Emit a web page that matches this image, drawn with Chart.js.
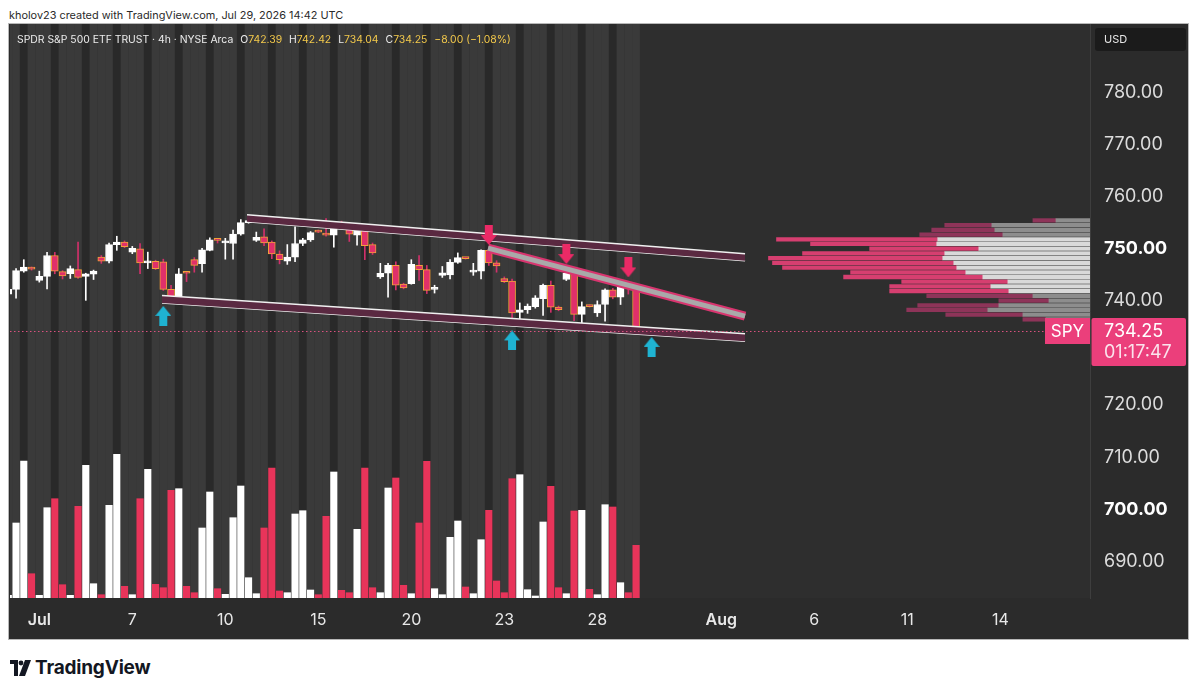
<!DOCTYPE html>
<html><head><meta charset="utf-8">
<script src="https://cdn.jsdelivr.net/npm/chart.js@4.4.1/dist/chart.umd.min.js"></script>
<style>
html,body{margin:0;padding:0;background:#fff;}
body{width:1200px;height:694px;position:relative;overflow:hidden;font-family:Inter,"Liberation Sans",Arial,sans-serif;}
#hdr{position:absolute;left:9px;top:8px;font-size:10.9px;color:#2a2a2a;white-space:nowrap;}
#frame{position:absolute;left:8px;top:23px;width:1179px;height:615px;border:1px solid #b8b8b8;background:#2b2b2b;}
#c{position:absolute;left:0;top:0;}
#legend{position:absolute;left:8px;top:9px;font-size:10.4px;color:#ececec;white-space:nowrap;}
#legend .v{color:#f3c94b;}
#legend b{font-weight:400;margin-left:7px;}
#logo{position:absolute;left:10px;top:656px;display:flex;align-items:center;}
#logo span{font-size:19px;font-weight:700;color:#131722;margin-left:3px;letter-spacing:-0.2px;}
</style></head>
<body>
<div id="hdr">kholov23 created with TradingView.com, Jul 29, 2026 14:42 UTC</div>
<div id="frame">
  <canvas id="c" width="1179" height="615"></canvas>
  <div id="legend">SPDR S&amp;P 500 ETF TRUST · 4h · NYSE Arca<b>O<span class="v">742.39</span></b><b>H<span class="v">742.42</span></b><b>L<span class="v">734.04</span></b><b>C<span class="v">734.25</span></b><b><span class="v">−8.00 (−1.08%)</span></b></div>
</div>
<div id="logo"><svg width="22" height="16" viewBox="0 0 22 16"><path d="M0 0H8V16H4V4H0Z" fill="#131722"/><circle cx="11" cy="3" r="2.4" fill="#131722"/><path d="M15 0H21L15 16H9Z" fill="#131722"/></svg><span>TradingView</span></div>
<script>
// ---------- data (4h bars, Jun 30 04:00 -> Jul 29 08:00) ----------
const open  = [741.3,742.2,745.7,746.2, 743.9,744.7,748.7,745.6, 745.2,746.0,744.7,745.1, 748.4,747.6,750.8,751.3, 749.35,750.0,747.3,747.6, 747.5,742.2,740.85,745.5, 747.9,747.15,749.7,751.7, 751.1,751.0,752.8,755.0, 751.6,752.3,751.3,749.0, 747.6,748.4,751.0,751.7, 753.4,753.0,752.6,754.9, 754.2,752.6,753.7,750.8, 744.6,745.3,746.8,743.2, 743.3,746.8,746.0,742.2, 744.9,745.0,747.4,748.2, 745.5,745.7,749.7,747.3, 744.3,743.8,737.8,738.3, 738.9,740.4,743.0,738.8, 744.1,745.4,737.4,739.0, 737.7,739.3,742.1,740.7, 742.5,742.39];
const high  = [742.3,746.2,747.9,746.5, 745.7,749.3,749.3,745.8, 746.7,751.3,745.3,745.9, 748.7,751.1,752.4,751.5, 750.45,751.0,749.35,747.8, 748.0,743.0,746.2,745.6, 748.3,750.1,752.1,751.9, 752.0,753.6,755.6,755.3, 753.2,753.8,751.5,749.6, 750.8,754.2,752.0,753.3, 753.6,755.8,754.8,755.3, 754.5,754.5,753.9,751.1, 747.2,747.2,747.5,743.4, 747.9,748.7,746.8,743.0, 746.6,747.9,749.2,748.3, 747.2,749.8,749.9,747.7, 744.6,744.2,739.6,739.4, 741.0,743.2,743.8,739.0, 746.5,745.6,739.8,739.2, 740.0,742.3,742.4,743.8, 743.6,742.42];
const low   = [740.6,740.5,745.5,745.9, 743.6,742.3,745.2,744.2, 744.3,744.3,740.1,744.1, 747.2,747.3,749.7,750.2, 749.05,745.2,746.2,746.0, 742.0,739.7,740.7,743.7, 745.5,745.5,749.6,751.1, 748.0,748.0,752.6,754.9, 751.4,750.6,748.1,747.1, 747.0,747.5,750.6,751.4, 753.1,752.4,750.3,754.2, 751.4,750.7,747.9,748.9, 744.3,740.7,742.1,742.3, 743.2,743.9,741.4,741.5, 744.5,744.2,747.2,748.0, 744.9,744.2,746.8,745.5, 743.5,735.6,735.7,737.6, 738.6,737.2,737.8,738.1, 743.9,736.2,735.7,738.8, 737.0,736.1,740.4,739.3, 741.3,734.04];
const close = [742.2,745.8,746.5,746.1, 744.7,748.7,745.7,744.8, 746.2,744.5,745.2,745.7, 747.6,750.8,751.3,750.4, 750.1,747.3,747.6,746.2, 742.2,740.6,745.2,745.3, 746.8,749.8,751.7,751.6, 751.5,752.8,755.0,755.1, 752.2,751.1,749.0,747.9, 748.4,751.0,751.7,753.1, 753.2,752.6,754.7,754.7, 752.8,753.7,750.6,749.2, 745.3,746.8,743.0,742.5, 747.0,746.0,742.0,742.6, 745.4,747.4,748.3,748.1, 745.8,749.7,747.3,746.7, 743.7,737.7,738.3,739.0, 740.6,743.0,738.8,738.3, 745.3,737.4,738.9,738.9, 739.3,742.1,740.7,743.6, 742.39,734.25];
const volume = [0.27,7.5,13.7,2.43, 0.27,9.03,9.93,1.33, 0.27,9.17,13.27,1.43, 0.33,9.27,14.37,1.17, 0.33,9.93,12.87,1.37, 1.03,10.77,10.93,1.17, 0.53,7.0,10.6,0.93, 0.37,8.03,11.2,2.03, 0.43,7.0,13.0,0.7, 0.53,8.4,8.73,0.8, 0.33,8.17,12.6,0.77, 0.53,6.87,13.0,1.03, 0.53,11.0,12.0,1.27, 0.43,7.5,13.67,0.93, 0.33,6.07,7.7,1.1, 0.43,5.83,8.77,1.7, 0.53,11.93,12.33,0.83, 0.2,7.6,11.17,1.03, 0.43,8.7,8.77,0.87, 0.33,9.33,9.1,1.53, 0.53,5.27];

const tickBars   = [4,16,28,40,52,64,76,92,104,116,128];
const tickLabels = ['Jul','7','10','15','20','23','28','Aug','6','11','14'];
const monthLabels = ['Jul','Aug'];
const priceTicks = [690,700,710,720,730,740,750,760,770,780];

// visible range (bar index / price)
const X_MIN = 0.22, X_MAX = 139.57;
const Y_MIN = 682.98, Y_MAX = 793.13;
const VOL_MAX = 57.4;

// volume profile (visible range)
const profilePrice = [755.44,754.54,753.63,752.73,751.82,750.92,750.01,749.11,748.20,747.30,746.39,745.49,744.58,743.68,742.77,741.87,740.96,740.06,739.15,738.25,737.34,736.44];
const profileUp    = [34,98,95,87,152,153,111,145,147,136,133,124,107,82,99,81,57,41,91,102,67,44];
const profileDown  = [23,47,63,83,161,126,109,142,174,181,174,115,139,106,101,119,106,50,81,81,77,23];
const vaHigh = 751.9, vaLow = 741.8;
const profileWidthShare = 0.2977;

// drawings (bar index, price)
const upperTop = [[30.8,756.53],[95.06,749.05]];
const upperBot = [[30.8,755.19],[95.06,747.70]];
const lowerTop = [[19.83,741.04],[95.06,733.69]];
const lowerBot = [[19.83,739.60],[95.06,732.25]];
const trendLine = [[61.9,750.12],[95.06,737.07]];
const sellArrows = [[62,752.65],[72,748.97],[80,746.42]];
const buyArrows  = [[20,737.11],[65,732.41],[83,731.16]];
const lastClose = 734.25, countdown = '01:17:47', symbol = 'SPY';

// ---------- styles ----------
const FONT = 'Inter, "Liberation Sans", Arial, sans-serif';
const UP = '#ffffff', DN_BODY = '#e0306a', DN_BORDER = '#f2a23a', DN_WICK = '#d0306a';
const VOL_UP = '#ffffff', VOL_DN = '#e8345a';
const LBL_PINK = '#eb3f7b';

const pts = a => a.map(p => ({x: p[0], y: p[1]}));
const isUp = i => close[i] >= open[i];

function arrowImg(color, down) {
  const c = document.createElement('canvas'); c.width = 16; c.height = 20;
  const g = c.getContext('2d'); g.fillStyle = color; g.beginPath();
  if (down) { g.moveTo(4,0); g.lineTo(12,0); g.lineTo(12,10); g.lineTo(16,10); g.lineTo(8,20); g.lineTo(0,10); g.lineTo(4,10); }
  else { g.moveTo(8,0); g.lineTo(16,10); g.lineTo(12,10); g.lineTo(12,20); g.lineTo(4,20); g.lineTo(4,10); g.lineTo(0,10); }
  g.closePath(); g.fill(); return c;
}
const sellImg = arrowImg('#ea2a66', true);
const buyImg = arrowImg('#1fb3d2', false);

const bgPlugin = {
  id: 'bg',
  beforeDatasetsDraw(chart) {
    const {ctx, chartArea: a, scales: {x}} = chart;
    ctx.save();
    ctx.beginPath(); ctx.rect(a.left, a.top, a.right - a.left, a.bottom - a.top); ctx.clip();
    ctx.fillStyle = '#2e2e2e';
    ctx.fillRect(a.left, a.top, a.right - a.left, a.bottom - a.top);
    for (let i = 0; i < close.length; i++) {
      const x0 = x.getPixelForValue(i - 0.5), x1 = x.getPixelForValue(i + 0.5);
      ctx.fillStyle = (i % 4 === 2) ? '#292929' : '#3a3a3a';
      ctx.fillRect(x0, a.top, x1 - x0, a.bottom - a.top);
    }
    ctx.restore();
  }
};

const labelPlugin = {
  id: 'lbl',
  afterDraw(chart) {
    const {ctx, chartArea: a, scales: {y}} = chart;
    const W = chart.width;
    const py = Math.round(y.getPixelForValue(lastClose)) + 0.5;
    ctx.save();
    ctx.strokeStyle = '#d9517f'; ctx.lineWidth = 1; ctx.setLineDash([1.5, 2.5]);
    ctx.beginPath(); ctx.moveTo(a.left, py); ctx.lineTo(a.right - 45, py); ctx.stroke();
    ctx.setLineDash([]);
    ctx.fillStyle = LBL_PINK;
    ctx.fillRect(a.right - 45, py - 13.5, 45, 26);
    ctx.beginPath(); ctx.roundRect(a.right + 1.5, py - 13.5, W - a.right - 3.5, 48, 2); ctx.fill();
    ctx.fillStyle = '#ffffff'; ctx.textBaseline = 'middle'; ctx.textAlign = 'center';
    ctx.font = '17px ' + FONT;
    ctx.fillText(symbol, a.right - 22.5, py);
    ctx.textAlign = 'left'; ctx.font = '18px ' + FONT;
    ctx.fillText(lastClose.toFixed(2), a.right + 14, py);
    ctx.fillStyle = '#fbe3ec';
    ctx.fillText(countdown, a.right + 14, py + 21);
    ctx.fillStyle = '#1b1b1b';
    ctx.beginPath(); ctx.roundRect(a.right + 5, 4, W - a.right - 7, 23, 3); ctx.fill();
    ctx.fillStyle = '#e6e6e6'; ctx.font = '11px ' + FONT; ctx.textAlign = 'left';
    ctx.fillText('USD', a.right + 14, 16);
    ctx.restore();
  }
};

const maxRow = Math.max(...profileUp.map((u, k) => u + profileDown[k]));
const inVA = k => profilePrice[k] <= vaHigh && profilePrice[k] >= vaLow;

const datasets = [
  {type: 'scatter', data: pts(sellArrows), pointStyle: sellImg, pointRadius: 8, order: 0, xAxisID: 'x', yAxisID: 'y'},
  {type: 'scatter', data: pts(buyArrows), pointStyle: buyImg, pointRadius: 8, order: 0, xAxisID: 'x', yAxisID: 'y'},
  {type: 'line', data: pts(trendLine), borderColor: '#a9a9a9', borderWidth: 5, pointRadius: 0, order: 1, xAxisID: 'x', yAxisID: 'y', borderCapStyle: 'butt'},
  {type: 'line', data: pts(trendLine), borderColor: '#d8356f', borderWidth: 9, pointRadius: 0, order: 2, xAxisID: 'x', yAxisID: 'y', borderCapStyle: 'butt'},
  {type: 'line', data: pts(upperTop), borderColor: '#f0f0f0', borderWidth: 1.6, pointRadius: 0, fill: '+1', backgroundColor: '#5a2941', order: 3, xAxisID: 'x', yAxisID: 'y'},
  {type: 'line', data: pts(upperBot), borderColor: '#f0f0f0', borderWidth: 1.6, pointRadius: 0, order: 3, xAxisID: 'x', yAxisID: 'y'},
  {type: 'line', data: pts(lowerTop), borderColor: '#f0f0f0', borderWidth: 1.6, pointRadius: 0, fill: '+1', backgroundColor: '#5a2941', order: 3, xAxisID: 'x', yAxisID: 'y'},
  {type: 'line', data: pts(lowerBot), borderColor: '#f0f0f0', borderWidth: 1.6, pointRadius: 0, order: 3, xAxisID: 'x', yAxisID: 'y'},
  {type: 'bar', data: close.map((c, i) => ({x: i, y: [open[i], c]})), xAxisID: 'x', yAxisID: 'y', grouped: false,
   barThickness: 7, minBarLength: 2, borderSkipped: false, borderWidth: 1,
   backgroundColor: ctx => isUp(ctx.dataIndex) ? UP : DN_BODY,
   borderColor: ctx => isUp(ctx.dataIndex) ? UP : DN_BORDER, order: 5},
  {type: 'bar', data: close.map((c, i) => ({x: i, y: [low[i], high[i]]})), xAxisID: 'x', yAxisID: 'y', grouped: false,
   barThickness: 1, borderWidth: 0, backgroundColor: ctx => isUp(ctx.dataIndex) ? UP : DN_WICK, order: 6},
  {type: 'bar', indexAxis: 'y', data: profilePrice.map((p, k) => ({y: p, x: [0, profileUp[k]]})), xAxisID: 'xp', yAxisID: 'y',
   grouped: false, barThickness: 3.6, borderWidth: 0,
   backgroundColor: ctx => inVA(ctx.dataIndex) ? '#d9d9d9' : '#8d8d8d', order: 7},
  {type: 'bar', indexAxis: 'y', data: profilePrice.map((p, k) => ({y: p, x: [profileUp[k], profileUp[k] + profileDown[k]]})), xAxisID: 'xp', yAxisID: 'y',
   grouped: false, barThickness: 3.6, borderWidth: 0,
   backgroundColor: ctx => inVA(ctx.dataIndex) ? '#d63f70' : '#8e3459', order: 7},
  {type: 'bar', data: volume.map((v, i) => ({x: i, y: v})), xAxisID: 'x', yAxisID: 'yv', grouped: false,
   barThickness: 6.5, borderWidth: 0, backgroundColor: ctx => isUp(ctx.dataIndex) ? VOL_UP : VOL_DN, order: 9}
];

new Chart(document.getElementById('c'), {
  type: 'bar',
  data: {datasets},
  options: {
    responsive: false, animation: false, devicePixelRatio: 1,
    layout: {autoPadding: false, padding: {left: 1, top: 0, right: 0, bottom: 0}},
    plugins: {legend: {display: false}, tooltip: {enabled: false}},
    scales: {
      x: {
        type: 'linear', axis: 'x', position: 'bottom', min: X_MIN, max: X_MAX, offset: false, bounds: 'data',
        grid: {display: false, drawTicks: false, tickLength: 0, offset: false}, border: {display: false},
        afterBuildTicks: s => { s.ticks = tickBars.map(v => ({value: v})); },
        afterFit: s => { s.height = 41; s.paddingLeft = 0; s.paddingRight = 0; },
        ticks: {
          autoSkip: false, maxRotation: 0, padding: 13, color: '#e8e8e8',
          font: c => ({family: FONT, size: 16, weight: (c.tick && monthLabels.includes(tickLabels[tickBars.indexOf(c.tick.value)])) ? '600' : '400'}),
          callback: v => tickLabels[tickBars.indexOf(v)]
        }
      },
      y: {
        type: 'linear', axis: 'y', position: 'right', min: Y_MIN, max: Y_MAX, offset: false, bounds: 'data', beginAtZero: false,
        grid: {display: false, drawTicks: false, tickLength: 0, offset: false}, border: {display: true, color: '#3e3e3e'},
        afterBuildTicks: s => { s.ticks = priceTicks.map(v => ({value: v})); },
        afterFit: s => { s.width = 98; s.paddingTop = 0; s.paddingBottom = 0; },
        ticks: {
          padding: 14,
          color: c => (c.tick && c.tick.value % 50 === 0) ? '#ffffff' : '#dcdcdc',
          font: c => ({family: FONT, size: 18, weight: (c.tick && c.tick.value % 50 === 0) ? '700' : '400'}),
          callback: v => Number(v).toFixed(2)
        }
      },
      yv: {type: 'linear', axis: 'y', position: 'left', display: false, min: 0, max: VOL_MAX, offset: false},
      xp: {type: 'linear', axis: 'x', position: 'bottom', display: false, reverse: true, min: 0, max: maxRow / profileWidthShare, offset: false}
    }
  },
  plugins: [bgPlugin, labelPlugin]
});
</script>
</body></html>
